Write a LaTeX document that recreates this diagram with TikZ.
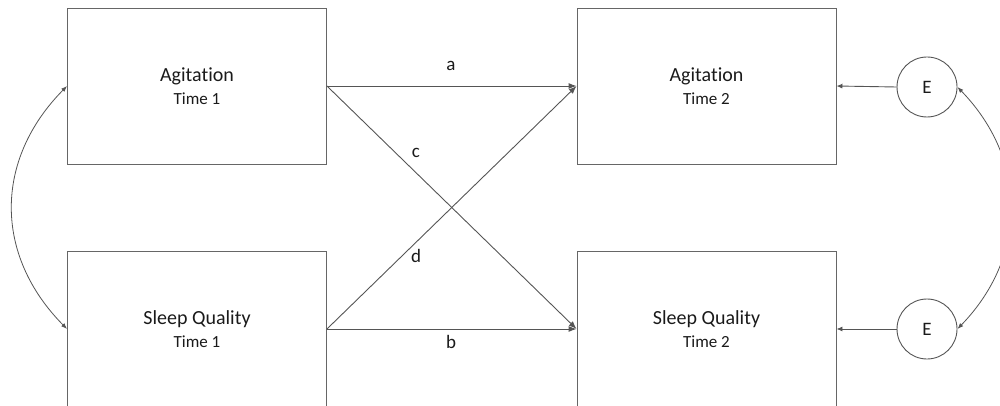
\documentclass[tikz,border=0pt]{standalone}
\usepackage{fontspec}
\setmainfont[Ligatures=NoCommon]{Carlito}
\usetikzlibrary{arrows.meta}
\definecolor{linegray}{HTML}{555555}
\definecolor{boxgray}{HTML}{666666}
\definecolor{txt}{HTML}{1a1a1a}
\tikzset{
  varbox/.style={draw=boxgray, line width=0.9pt, minimum width=259pt, minimum height=156pt, inner sep=0pt, align=center, text=txt, font=\fontsize{20}{23.5}\selectfont},
  errc/.style={draw=linegray, line width=0.9pt, circle, minimum size=60pt, inner sep=0pt, text=txt, font=\fontsize{19}{22}\selectfont},
  path/.style={draw=linegray, line width=0.9pt, -{Latex[length=8pt,width=6pt]}},
  epath/.style={draw=linegray, line width=0.9pt, -{Latex[length=6pt,width=5pt]}},
  cov/.style={draw=linegray, line width=0.8pt, {Latex[length=6pt,width=4.5pt]}-{Latex[length=6pt,width=4.5pt]}},
  lbl/.style={text=txt, font=\fontsize{19}{22}\selectfont, inner sep=0pt}
}
\newcommand{\boxtext}[2]{\raisebox{-2pt}{#1}\\{\fontsize{17}{20}\selectfont\raisebox{-2pt}{#2}}}
\begin{document}
\begin{tikzpicture}[x=1pt,y=-1pt]
\useasboundingbox (0,0) rectangle (1000,406);
\node[varbox] (a1) at (197,86) {\boxtext{Agitation}{Time 1}};
\node[varbox] (s1) at (197,329) {\boxtext{Sleep Quality}{Time 1}};
\node[varbox] (a2) at (706.5,86) {\boxtext{Agitation}{Time 2}};
\node[varbox] (s2) at (706.5,329) {\boxtext{Sleep Quality}{Time 2}};
\node[errc] (e1) at (927,87) {E};
\node[errc] (e2) at (927,329) {E};
\draw[path] (a1.east) -- (a2.west);
\draw[path] (s1.east) -- (s2.west);
\draw[path] (a1.east) -- (s2.west);
\draw[path] (s1.east) -- (a2.west);
\draw[epath] (e1.west) -- (a2.east);
\draw[epath] (e2.west) -- (s2.east);
\draw[cov] (a1.west) .. controls (-6,160) and (-6,255) .. (s1.west);
\draw[cov] (e1.east) .. controls (1028,160) and (1028,256) .. (e2.east);
\node[lbl] (la) at (451,66) {a};
\node[lbl] (lb) at (451,342) {b};
\node[lbl] (lc) at (416,153) {c};
\node[lbl] (ld) at (416,256) {d};
\end{tikzpicture}
\end{document}
